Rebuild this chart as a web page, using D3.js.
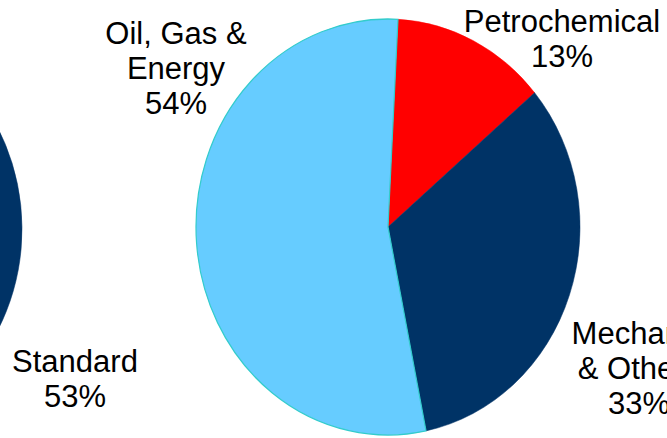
<!DOCTYPE html>
<html>
<head>
<meta charset="utf-8">
<script src="https://cdn.jsdelivr.net/npm/d3@7"></script>
<style>
  html, body { margin: 0; padding: 0; background: #fff; }
  svg { display: block; }
  text { font-family: "Liberation Sans", Arial, sans-serif; fill: #000; }
</style>
</head>
<body>
<div id="chart"></div>
<script>
// ---- data ----
const mainCategories = ["Petrochemical", "Mechanical\n& Others", "Oil, Gas &\nEnergy"];
const mainValues = [13, 33, 54];
const mainColors = ["#FF0000", "#003366", "#66CCFF"];

const leftCategories = ["Standard", ""];
const leftValues = [53, 47];
const leftColors = ["#003366", "#66CCFF"];

// ---- layout ----
const W = 667, H = 438;
const svg = d3.select("#chart").append("svg").attr("width", W).attr("height", H);

const rx = 192, ry = 208;
const arc = d3.arc().innerRadius(0).outerRadius(rx);

function drawPie(cx, cy, values, colors, start) {
  const pie = d3.pie().sort(null).startAngle(start).endAngle(start + 2 * Math.PI);
  const g = svg.append("g").attr("transform", `translate(${cx},${cy}) scale(1,${ry / rx})`);
  g.selectAll("path").data(pie(values)).join("path")
    .attr("d", arc)
    .attr("fill", (d, i) => colors[i])
    .attr("stroke", (d, i) => colors[i] === "#66CCFF" ? "#33CCCC" : colors[i])
    .attr("stroke-width", (d, i) => colors[i] === "#66CCFF" ? 1.2 : 0.5)
    .attr("stroke-linejoin", "round");
  return pie(values);
}

drawPie(-170, 229, leftValues, leftColors, 0);
drawPie(388, 227, mainValues, mainColors, 0.052);

// ---- labels ----
const fs = 31, lh = 35;
function label(xs, y, lines) {
  const t = svg.append("text").attr("text-anchor", "middle").attr("font-size", fs);
  lines.forEach((s, i) => t.append("tspan")
    .attr("x", Array.isArray(xs) ? xs[i] : xs)
    .attr("y", y + i * lh).text(s));
}
const fmt = v => v + "%";
label(562, 32, [...mainCategories[0].split("\n"), fmt(mainValues[0])]);
label([650, 639, 639], 344, [...mainCategories[1].split("\n"), fmt(mainValues[1])]);
label(176, 44, [...mainCategories[2].split("\n"), fmt(mainValues[2])]);
label(75, 372, [leftCategories[0], fmt(leftValues[0])]);
</script>
</body>
</html>
